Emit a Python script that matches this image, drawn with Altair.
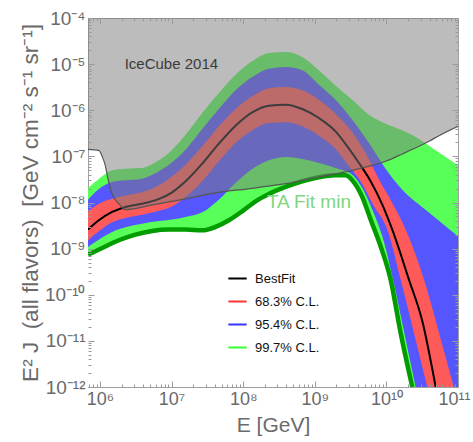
import json
import altair as alt
import pandas as pd

# ---------------- values (log10 E/GeV, log10 E^2 J) ----------------
# 99.7% C.L. upper edge
g_up_x = [5.8325, 5.984, 6.170, 6.356, 6.589, 6.799, 7.008, 7.195, 7.428, 7.660, 7.893, 8.126,
          8.359, 8.592, 8.825, 9.057, 9.290, 9.523, 9.756, 9.989, 10.222, 10.455, 10.688, 11.0]
g_up_y = [-7.685, -7.490, -7.302, -7.266, -7.251, -7.107, -6.854, -6.529, -6.059, -5.626, -5.228, -4.939,
          -4.759, -4.737, -4.845, -5.134, -5.467, -5.770, -6.095, -6.291, -6.435, -6.623, -6.869, -7.194]
# 95.4% C.L. upper edge
b_up_x = g_up_x
b_up_y = [-7.938, -7.707, -7.555, -7.519, -7.483, -7.345, -7.129, -6.854, -6.406, -5.973, -5.568, -5.279,
          -5.098, -5.062, -5.134, -5.445, -5.770, -6.204, -6.710, -7.266, -7.721, -8.046, -8.335, -8.733]
# 68.3% C.L. upper edge
r_up_x = [5.8325, 5.984, 6.170, 6.356, 6.589, 6.799, 7.008, 7.195, 7.428, 7.660, 7.893, 8.126, 8.359,
          8.592, 8.825, 9.057, 9.290, 9.523, 9.710, 9.896, 10.082, 10.269, 10.525, 10.735, 10.940]
r_up_y = [-8.191, -8.025, -7.916, -7.851, -7.779, -7.649, -7.432, -7.179, -6.782, -6.348, -5.973, -5.698, -5.525,
          -5.496, -5.568, -5.770, -6.074, -6.478, -6.926, -7.504, -8.010, -8.588, -9.672, -10.828, -12.0]
# best fit
bf_x = [5.8325, 5.984, 6.170, 6.356, 6.589, 6.799, 7.008, 7.195, 7.428, 7.660, 7.893, 8.126, 8.359,
        8.592, 8.825, 9.057, 9.290, 9.454, 9.617, 9.780, 9.943, 10.082, 10.315, 10.502, 10.688]
bf_y = [-8.588, -8.386, -8.205, -8.097, -8.025, -7.938, -7.779, -7.540, -7.158, -6.724, -6.334, -6.045, -5.900,
        -5.879, -5.973, -6.168, -6.457, -6.782, -7.143, -7.540, -8.046, -8.588, -9.672, -10.575, -12.0]
# 68.3% C.L. lower edge
r_lo_x = [5.8325, 5.984, 6.170, 6.356, 6.589, 6.799, 7.008, 7.195, 7.428, 7.660, 7.893, 8.126,
          8.359, 8.592, 8.825, 9.057, 9.290, 9.477, 9.640, 9.826, 10.013, 10.199, 10.385, 10.571]
r_lo_y = [-8.819, -8.624, -8.429, -8.335, -8.263, -8.191, -8.082, -7.880, -7.540, -7.107, -6.710, -6.435,
          -6.276, -6.262, -6.348, -6.551, -6.832, -7.215, -7.540, -8.082, -8.588, -9.672, -10.828, -12.0]
# 95.4% C.L. lower edge
b_lo_x = [5.8325, 5.984, 6.170, 6.356, 6.589, 6.799, 7.008, 7.195, 7.428, 7.660, 7.893, 8.126,
          8.359, 8.592, 8.825, 9.057, 9.290, 9.523, 9.663, 9.803, 9.943, 10.092, 10.250, 10.408]
b_lo_y = [-8.964, -8.805, -8.639, -8.538, -8.458, -8.408, -8.371, -8.314, -8.212, -7.938, -7.577, -7.273,
          -7.085, -7.013, -7.056, -7.143, -7.251, -7.396, -7.685, -8.155, -8.733, -9.672, -10.828, -12.0]
# 99.7% C.L. lower edge = TA Fit min
ta_x = [5.8325, 6.030, 6.263, 6.496, 6.729, 6.962, 7.195, 7.428, 7.614, 7.800, 7.986, 8.173, 8.359,
        8.592, 8.825, 9.057, 9.290, 9.430, 9.547, 9.663, 9.780, 9.919, 10.059, 10.199, 10.362]
ta_y = [-9.130, -8.986, -8.819, -8.697, -8.617, -8.588, -8.588, -8.603, -8.530, -8.386, -8.191, -7.974, -7.815,
        -7.663, -7.540, -7.454, -7.410, -7.410, -7.562, -7.880, -8.371, -8.949, -9.672, -10.828, -12.0]
# IceCube 2014 limit
ic_x = [5.8325, 5.984, 6.030, 6.077, 6.114, 6.151, 6.198, 6.263, 6.356, 6.729, 7.195, 7.614,
        8.126, 8.592, 9.057, 9.523, 9.803, 9.989, 10.222, 10.455, 10.595, 10.735, 11.0]
ic_y = [-6.847, -6.869, -6.999, -7.215, -7.504, -7.736, -7.902, -8.025, -8.155, -8.053, -7.923, -7.793,
        -7.692, -7.591, -7.447, -7.302, -7.194, -7.107, -6.948, -6.782, -6.673, -6.551, -6.348]

legend_names = ["BestFit", "68.3% C.L.", "95.4% C.L.", "99.7% C.L."]
legend_colors = ["#000000", "#ff3535", "#3535ff", "#35ff35"]

annot_text = ["IceCube 2014", "TA Fit min"]
annot_x = [6.997, 8.918]
annot_y = [-4.997, -7.996]

x_exp = list(range(6, 12))
y_exp = list(range(-12, -3))

# ---------------- helpers ----------------
X_MIN, X_MAX = 6.8e5, 1e11
Y_MIN, Y_MAX = 1e-12, 1e-4
FONT = "Liberation Sans"
TXT = "#6a6a6a"
TICK = "#9a9a9a"

sup = str.maketrans("-0123456789", "⁻⁰¹²³⁴⁵⁶⁷⁸⁹")
x_major = [10.0 ** k for k in x_exp]
y_major = [10.0 ** k for k in y_exp]
x_lbl = ["10" + str(k).translate(sup) for k in x_exp]
y_lbl = ["10" + str(k).translate(sup) for k in y_exp]
x_minor = [m * 10.0 ** k for k in range(5, 11) for m in range(2, 10) if X_MIN <= m * 10.0 ** k <= X_MAX]
y_minor = [m * 10.0 ** k for k in range(-12, -4) for m in range(2, 10)]


def df(lx, ly, **extra):
    d = pd.DataFrame({"e": [10 ** v for v in lx], "f": [10 ** v for v in ly]})
    for k, v in extra.items():
        d[k] = v
    return d


xs = alt.Scale(type="log", domain=[X_MIN, X_MAX], nice=False)
ys = alt.Scale(type="log", domain=[Y_MIN, Y_MAX], nice=False)

common = dict(domain=False, grid=False, tickColor=TICK, tickWidth=1, zindex=1)

ax_bottom = alt.Axis(orient="bottom", values=x_major, tickSize=6, offset=-6,
                     labelExpr=json.dumps(x_lbl, ensure_ascii=False) + "[round(log(datum.value)/LN10)-6]",
                     labelFont=FONT, labelFontSize=18, labelColor=TXT, labelPadding=3,
                     labelOffset={"condition": {"test": "datum.value > 5e10", "value": -4}, "value": 0},
                     labelFlush=False, labelOverlap=False,
                     title="E [GeV]", titleFont=FONT, titleFontSize=21, titleFontWeight="normal",
                     titleColor=TXT, titlePadding=6, **common)
ax_bottom_minor = alt.Axis(orient="bottom", values=x_minor, tickSize=3, offset=-3, labels=False,
                           title=None, **common)
ax_top = alt.Axis(orient="top", values=x_major, tickSize=6, offset=-6, labels=False, title=None, **common)
ax_top_minor = alt.Axis(orient="top", values=x_minor, tickSize=3, offset=-3, labels=False, title=None, **common)

ax_left = alt.Axis(orient="left", values=y_major, tickSize=6, offset=-6,
                   labelExpr=json.dumps(y_lbl, ensure_ascii=False) + "[round(log(datum.value)/LN10)+12]",
                   labelFont=FONT, labelFontSize=19, labelColor=TXT, labelPadding=3,
                   labelOverlap=False,
                   title="E² J\u00a0\u00a0(all flavors)\u00a0\u00a0[GeV cm⁻² s⁻¹ sr⁻¹]",
                   titleFont=FONT, titleFontSize=22.5, titleFontWeight="normal", titleColor=TXT,
                   titlePadding=2, **common)
ax_left_minor = alt.Axis(orient="left", values=y_minor, tickSize=3, offset=-3, labels=False,
                         title=None, **common)
ax_right = alt.Axis(orient="right", values=y_major, tickSize=6, offset=-6, labels=False, title=None, **common)
ax_right_minor = alt.Axis(orient="right", values=y_minor, tickSize=3, offset=-3, labels=False, title=None, **common)


def area_to_floor(data, color, ax_x=None, ax_y=None):
    return alt.Chart(data).mark_area(color=color, opacity=1, interpolate="monotone", clip=True).encode(
        x=alt.X("e:Q", scale=xs, axis=ax_x),
        y=alt.Y("f:Q", scale=ys, axis=ax_y),
        y2=alt.datum(Y_MIN),
    )


GREEN = "#58ff58"
BLUE = "#5656ff"
RED = "#ff5a5a"

l_gup = area_to_floor(df(g_up_x, g_up_y), GREEN, ax_bottom, ax_left)
l_bup = area_to_floor(df(b_up_x, b_up_y), BLUE, ax_bottom_minor, ax_left_minor)
l_rup = area_to_floor(df(r_up_x, r_up_y), RED, ax_top, ax_right)
l_rlo = area_to_floor(df(r_lo_x, r_lo_y), BLUE, ax_top_minor, ax_right_minor)
l_blo = area_to_floor(df(b_lo_x, b_lo_y), GREEN)
l_glo = area_to_floor(df(ta_x, ta_y), "#ffffff")

l_ta = alt.Chart(df(ta_x, ta_y)).mark_line(color="#009c00", strokeWidth=4.5, interpolate="monotone",
                                             clip=True).encode(
    x=alt.X("e:Q", scale=xs, axis=None), y=alt.Y("f:Q", scale=ys, axis=None))

l_bf = alt.Chart(df(bf_x, bf_y, series="BestFit")).mark_line(strokeWidth=2, interpolate="monotone",
                                                               clip=True).encode(
    x=alt.X("e:Q", scale=xs, axis=None), y=alt.Y("f:Q", scale=ys, axis=None),
    color=alt.Color("series:N", scale=alt.Scale(domain=legend_names, range=legend_colors),
                    legend=alt.Legend(orient="none", legendX=139, legendY=250, direction="vertical",
                                      title=None, symbolType="stroke", symbolSize=335,
                                      symbolStrokeWidth=2, labelFont=FONT, labelFontSize=13,
                                      labelColor="#111111", labelOffset=7, rowPadding=5, padding=0)))

l_ic_area = alt.Chart(df(ic_x, ic_y)).mark_area(color="#7a7a7a", opacity=0.5, interpolate="monotone",
                                                  clip=True).encode(
    x=alt.X("e:Q", scale=xs, axis=None), y=alt.Y("f:Q", scale=ys, axis=None), y2=alt.datum(Y_MAX))
l_ic_line = alt.Chart(df(ic_x, ic_y)).mark_line(color="#555555", strokeWidth=1.2, interpolate="monotone",
                                                  clip=True).encode(
    x=alt.X("e:Q", scale=xs, axis=None), y=alt.Y("f:Q", scale=ys, axis=None))

ann = df(annot_x, annot_y, label=annot_text)
l_ann_ic = alt.Chart(ann.iloc[[0]]).mark_text(font=FONT, fontSize=15, color="#3a3a3a", align="center",
                                              baseline="middle").encode(
    x=alt.X("e:Q", scale=xs, axis=None), y=alt.Y("f:Q", scale=ys, axis=None), text="label:N")
l_ann_ta = alt.Chart(ann.iloc[[1]]).mark_text(font=FONT, fontSize=19, color="#80d680", align="center",
                                              baseline="middle").encode(
    x=alt.X("e:Q", scale=xs, axis=None), y=alt.Y("f:Q", scale=ys, axis=None), text="label:N")

chart = alt.layer(
    l_gup, l_bup, l_rup, l_rlo, l_blo, l_glo, l_ta, l_bf, l_ic_area, l_ic_line, l_ann_ic, l_ann_ta
).resolve_axis(x="independent", y="independent").properties(
    width=370, height=369,
    padding={"left": 88, "top": 18, "right": 15, "bottom": 55},
    autosize=alt.AutoSizeParams(type="none"),
    background="white",
).configure_view(stroke="#a0a0a0", strokeWidth=1)

chart.save("out.html", embed_options={"renderer": "svg", "actions": False})
